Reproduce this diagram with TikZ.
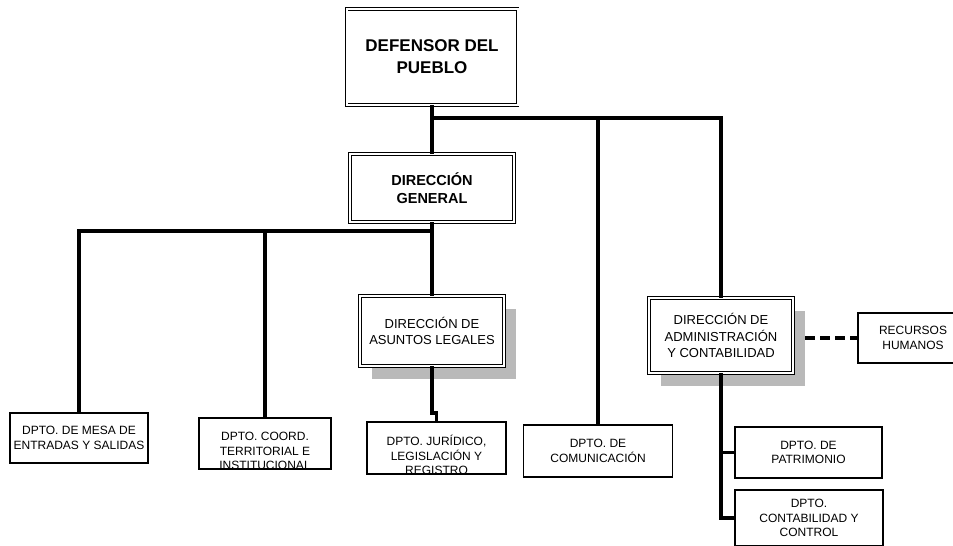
\documentclass[tikz,border=0pt]{standalone}
\usepackage{fontspec}
\setmainfont{Liberation Sans}
\usetikzlibrary{shadows,calc}
\begin{document}
\begin{tikzpicture}[x=1pt,y=-1pt,
  base/.style={rectangle, align=center, inner sep=0pt, fill=white},
  dbl/.style={draw, line width=0.9pt, double=white, double distance=2pt},
  topbox/.style={base, dbl, font=\bfseries\fontsize{17}{22}\selectfont},
  genbox/.style={base, dbl, font=\bfseries\fontsize{14.5}{18}\selectfont},
  dirbox/.style={base, dbl, font=\fontsize{13}{16.5}\selectfont,
    drop shadow={shadow xshift=12pt, shadow yshift=-13pt, fill=gray!55, opacity=1}},
  deptbox/.style={base, draw, line width=1.1pt, font=\fontsize{12}{14.5}\selectfont},
  depttext/.style={align=center, inner sep=0pt, font=\fontsize{12}{14.5}\selectfont},
  conn/.style={line width=3.6pt, line join=miter},
  dashline/.style={line width=4.5pt, dash pattern=on 10pt off 5pt}
]
\useasboundingbox (0,0) rectangle (953,546);

% top level
\node[topbox, minimum width=171, minimum height=96] (def) at (432,57) {DEFENSOR DEL\\PUEBLO};
\node[genbox, minimum width=164, minimum height=68] (dg) at (432,188) {DIRECCIÓN\\GENERAL};

% direcciones
\node[dirbox, minimum width=144, minimum height=70] (dal) at (432,331) {DIRECCIÓN DE\\ASUNTOS LEGALES};
\node[dirbox, minimum width=144, minimum height=75] (dac) at (721,335.5) {DIRECCIÓN DE\\ADMINISTRACIÓN\\Y CONTABILIDAD};

% departamentos
\node[deptbox, minimum width=138, minimum height=50] (mesa) at (79,438) {DPTO. DE MESA DE\\ENTRADAS Y SALIDAS};
\node[depttext] (coordt) at (265,451) {DPTO. COORD.\\TERRITORIAL E\\INSTITUCIONAL};
\node[deptbox, fill=none, minimum width=132, minimum height=51] (coord) at (265,443.5) {};
\node[depttext] (jurt) at (436.5,455) {DPTO. JURÍDICO,\\LEGISLACIÓN Y\\REGISTRO};
\node[deptbox, fill=none, minimum width=139, minimum height=52] (jur) at (436.5,448) {};
\node[deptbox, minimum width=149, minimum height=52] (com) at (598,451) {\raisebox{-6pt}{\shortstack{DPTO. DE\\[1pt]COMUNICACIÓN}}};
\node[deptbox, minimum width=147, minimum height=51] (pat) at (808.5,452.5) {DPTO. DE\\PATRIMONIO};
\node[deptbox, minimum width=148, minimum height=56] (cont) at (809,518) {DPTO.\\CONTABILIDAD Y\\CONTROL};
\node[deptbox, minimum width=110, minimum height=50] (rrhh) at (913,338) {RECURSOS\\HUMANOS};

% junctions
\coordinate (j1) at (432,118);
\coordinate (j2) at (432,231);
\coordinate (j3) at (432,413);
\coordinate (rh) at ($(rrhh.west -| dac.east)+(12,0)$);

% connectors
\draw[conn] (def.south) -- (dg.north);
\draw[conn] (j1) -| (dac.north);
\draw[conn] (j1 -| com.north) -- (com.north);
\draw[conn] (dg.south) -- (dal.north);
\draw[conn] (j2) -| (mesa.north);
\draw[conn] (j2 -| coord.north) -- (coord.north);
\draw[conn] (dal.south) -- (j3) -| (jur.north);
\draw[conn] (dac.south) |- (cont.west);
\draw[conn] (dac.south |- pat.west) -- (pat.west);
\draw[dashline] (rh) -- (rrhh.west);
\end{tikzpicture}
\end{document}
